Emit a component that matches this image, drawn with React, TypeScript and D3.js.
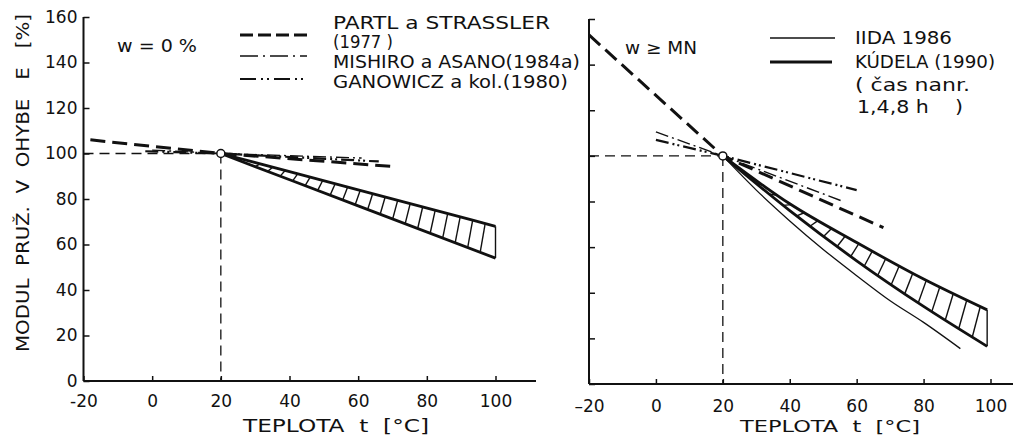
import React, { useEffect, useRef } from "react";
import * as d3 from "d3";

type Pt = [number, number];

const FONT = "DejaVu Sans";

// axes
const xTicks = [-20, 0, 20, 40, 60, 80, 100];
const xTickLabelsLeft = ["-20", "0", "20", "40", "60", "80", "100"];
const xTickLabelsRight = ["–20", "0", "20", "40", "60", "80", "100"];
const yTicks = [0, 20, 40, 60, 80, 100, 120, 140, 160];
const yTickLabels = ["0", "20", "40", "60", "80", "100", "120", "140", "160"];

// reference cross at 20 °C / 100 %
const refH: Pt[] = [[-20, 100], [20, 100]];
const refV: Pt[] = [[20, 100], [20, 0]];
const refPoint: Pt = [20, 100];

// w = 0 %
const leftPartl: Pt[] = [[-18, 106], [20, 100], [70, 94.3]];
const leftMishiro: Pt[] = [[0, 101.5], [20, 100], [61, 98]];
const leftGanowicz: Pt[] = [[-2, 101], [20, 100], [66, 96.5]];
const leftKudelaUpper: Pt[] = [[20, 100], [60, 84], [100, 68]];
const leftKudelaLower: Pt[] = [[20, 100], [60, 77], [100, 54]];

// w >= MN
const rightPartl: Pt[] = [[-20, 153], [20, 100], [68, 68.5]];
const rightMishiro: Pt[] = [[0, 110.5], [20, 100], [56, 80]];
const rightGanowicz: Pt[] = [[0, 107], [20, 100], [60, 85]];
const rightIida: Pt[] = [[20, 100], [30, 85], [40, 71.5], [50, 59], [60, 47.5], [70, 36.5], [80, 27], [91, 15.5]];
const rightKudelaUpper: Pt[] = [[20, 100], [40, 79], [60, 62], [80, 46], [99, 32.5]];
const rightKudelaLower: Pt[] = [[20, 100], [40, 76], [60, 54], [80, 34], [99, 16.5]];

const leftLegend = ["PARTL a STRASSLER", "(1977 )", "MISHIRO a ASANO(1984a)", "GANOWICZ a kol.(1980)"];
const rightLegend = ["IIDA 1986", "KÚDELA (1990)", "( čas nanr.", "1,4,8 h    )"];

const REF = { w: 1.3, dash: "10,6" };
const PARTL = { w: 3, dash: "15,7" };
const MISHIRO = { w: 1.4, dash: "13,4,2,4" };
const GANOWICZ = { w: 2.2, dash: "13,4,2,3,2,4" };
const IIDA = { w: 1.3, dash: "" };
const KUDELA = { w: 2.8, dash: "" };

function interp(pts: Pt[], xv: number) {
  for (let i = 1; i < pts.length; i++) {
    const [x0, y0] = pts[i - 1];
    const [x1, y1] = pts[i];
    if (xv <= x1) return y0 + ((xv - x0) / (x1 - x0)) * (y1 - y0);
  }
  return pts[pts.length - 1][1];
}

function drawPanel(svg: any, p: any) {
  const x = d3.scaleLinear().domain([-20, 100]).range([p.left, p.right]);
  const y = d3.scaleLinear().domain([0, 160]).range([p.bottom, p.top]);
  const g = svg.append("g");

  const yAxis = d3
    .axisLeft(y)
    .tickValues(yTicks)
    .tickSize(-6)
    .tickSizeOuter(0)
    .tickPadding(6)
    .tickFormat((d: any, i: number) => (p.yLabels ? yTickLabels[i] : ""));
  const ya = g.append("g").attr("transform", `translate(${p.left},0)`).call(yAxis);

  const xAxis = d3
    .axisBottom(x)
    .tickValues(xTicks)
    .tickSize(-5)
    .tickSizeOuter(0)
    .tickPadding(p.xPad)
    .tickFormat((d: any, i: number) => p.xLabels[i]);
  const xa = g.append("g").attr("transform", `translate(0,${p.bottom})`).call(xAxis);

  [ya, xa].forEach((a: any) => {
    a.select(".domain").remove();
    a.attr("font-size", 17).attr("font-family", FONT);
    a.selectAll("line").attr("stroke", "#111").attr("stroke-width", 1.5);
    a.selectAll("text").attr("fill", "#111");
  });

  g.append("line")
    .attr("x1", p.left).attr("x2", p.left)
    .attr("y1", p.bottom).attr("y2", y(160))
    .attr("stroke", "#111").attr("stroke-width", 2);
  g.append("line")
    .attr("x1", p.left).attr("x2", p.axisEnd)
    .attr("y1", p.bottom).attr("y2", p.bottom)
    .attr("stroke", "#111").attr("stroke-width", 2);

  const line = d3.line<Pt>().x((d) => x(d[0])).y((d) => y(d[1]));
  const smooth = d3.line<Pt>().x((d) => x(d[0])).y((d) => y(d[1])).curve(d3.curveMonotoneX);

  const draw = (pts: Pt[], st: any, gen = line) =>
    g.append("path")
      .attr("d", gen(pts))
      .attr("fill", "none")
      .attr("stroke", "#111")
      .attr("stroke-width", st.w)
      .attr("stroke-dasharray", st.dash || null);

  draw(refH, REF);
  draw(refV, REF);

  // hatched band
  const up: Pt[] = p.upper;
  const lo: Pt[] = p.lower;
  const xEnd = up[up.length - 1][0];
  d3.range(x(p.hatchFrom), x(xEnd) - p.slant, p.hatchStep).forEach((px: number) => {
    const xb = x.invert(px);
    const xt = x.invert(px + p.slant);
    g.append("line")
      .attr("x1", px).attr("y1", y(interp(lo, xb)))
      .attr("x2", px + p.slant).attr("y2", y(interp(up, xt)))
      .attr("stroke", "#111").attr("stroke-width", 1.4);
  });
  g.append("line")
    .attr("x1", x(xEnd)).attr("x2", x(xEnd))
    .attr("y1", y(up[up.length - 1][1])).attr("y2", y(lo[lo.length - 1][1]))
    .attr("stroke", "#111").attr("stroke-width", 1.4);
  draw(up, KUDELA, smooth);
  draw(lo, KUDELA, smooth);
  if (p.iida) draw(p.iida, IIDA, smooth);

  draw(p.mishiro, MISHIRO);
  draw(p.ganowicz, GANOWICZ);
  draw(p.partl, PARTL);

  g.append("circle")
    .attr("cx", x(refPoint[0])).attr("cy", y(refPoint[1])).attr("r", 4)
    .attr("fill", "#fff").attr("stroke", "#111").attr("stroke-width", 1.5);
}

function text(svg: any, s: string, xPos: number, yPos: number, len: number, size = 17) {
  svg.append("text")
    .attr("x", xPos).attr("y", yPos)
    .attr("font-family", FONT).attr("font-size", size)
    .attr("fill", "#111")
    .attr("textLength", len).attr("lengthAdjust", "spacingAndGlyphs")
    .style("white-space", "pre")
    .text(s);
}

function sample(svg: any, x1: number, x2: number, yPos: number, st: any) {
  svg.append("line")
    .attr("x1", x1).attr("x2", x2).attr("y1", yPos).attr("y2", yPos)
    .attr("stroke", "#111").attr("stroke-width", st.w)
    .attr("stroke-dasharray", st.dash || null);
}

export default function App() {
  const ref = useRef<SVGSVGElement>(null);

  useEffect(() => {
    const svg = d3.select(ref.current);
    svg.selectAll("*").remove();
    svg.append("rect").attr("width", 1013).attr("height", 436).attr("fill", "#fff");

    drawPanel(svg, {
      left: 83.5, right: 495.5, top: 17, bottom: 381, axisEnd: 536,
      xPad: 14, xLabels: xTickLabelsLeft, yLabels: true,
      partl: leftPartl, mishiro: leftMishiro, ganowicz: leftGanowicz,
      upper: leftKudelaUpper, lower: leftKudelaLower,
      hatchFrom: 30, hatchStep: 12.5, slant: 5,
    });
    drawPanel(svg, {
      left: 589, right: 990.5, top: 19, bottom: 384, axisEnd: 1013,
      xPad: 16, xLabels: xTickLabelsRight, yLabels: false,
      partl: rightPartl, mishiro: rightMishiro, ganowicz: rightGanowicz,
      upper: rightKudelaUpper, lower: rightKudelaLower, iida: rightIida,
      hatchFrom: 30, hatchStep: 13.5, slant: 8,
    });

    // left legend
    sample(svg, 240, 307, 35, { w: 3, dash: "13,5" });
    sample(svg, 240, 307, 56, { w: 1.4, dash: "18,5,2,5" });
    sample(svg, 240, 307, 79, { w: 1.8, dash: "16,5,2,4,2,5" });
    text(svg, leftLegend[0], 333, 29, 217);
    text(svg, leftLegend[1], 333, 48, 60);
    text(svg, leftLegend[2], 333, 68, 247);
    text(svg, leftLegend[3], 333, 88, 235);
    text(svg, "w = 0 %", 117, 52, 80);

    // right legend
    sample(svg, 770, 835, 38, IIDA);
    sample(svg, 770, 832, 62, { w: 3, dash: "" });
    text(svg, rightLegend[0], 855, 44, 97);
    text(svg, rightLegend[1], 855, 68, 140);
    text(svg, rightLegend[2], 855, 91, 115);
    text(svg, rightLegend[3], 857, 113, 106);
    text(svg, "w ≥ MN", 625, 54, 72);

    // axis titles
    text(svg, "TEPLOTA  t  [°C]", 243, 432, 186);
    text(svg, "TEPLOTA  t  [°C]", 740, 432, 180, 16);
    svg.append("text")
      .attr("transform", "translate(29,183) rotate(-90)")
      .attr("text-anchor", "middle")
      .attr("font-family", FONT).attr("font-size", 17).attr("fill", "#111")
      .attr("textLength", 338).attr("lengthAdjust", "spacingAndGlyphs")
      .style("white-space", "pre")
      .text("MODUL  PRUŽ.  V  OHYBE   E   [%]");
  }, []);

  return (
    <svg
      ref={ref}
      width={1013}
      height={436}
      style={{ position: "absolute", left: 0, top: 0 }}
    />
  );
}
